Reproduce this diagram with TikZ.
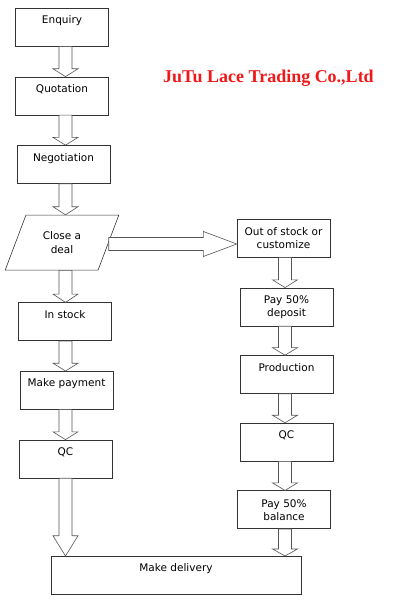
\documentclass[tikz,border=0pt]{standalone}
\usepackage{fontspec}
\setmainfont{DejaVu Sans}
\newfontfamily\titlefont{Liberation Serif}
\usetikzlibrary{positioning,calc,shapes.geometric}
\definecolor{FlowLine}{HTML}{333333}
\definecolor{FlowArrow}{HTML}{555555}
\definecolor{TitleRed}{HTML}{F01818}

% hollow block arrow between two points, head about a quarter of the length
\newcommand\blockarrow[2]{%
  \draw[fatarrow] let \p1=#1, \p2=#2,
      \n1={atan2(\y2-\y1,\x2-\x1)}, \n2={veclen(\x2-\x1,\y2-\y1)} in
    [shift={(\p1)}, rotate=\n1]
    (0,-6.5) -- ({0.74*\n2},-6.5) -- ({0.74*\n2},-12.5) -- ({\n2},0)
    -- ({0.74*\n2},12.5) -- ({0.74*\n2},6.5) -- (0,6.5) -- cycle;}

\begin{document}
\begin{tikzpicture}[x=1pt,y=-1pt,node distance=30pt]
    \tikzset{flowbox/.style={draw=FlowLine,line width=0.6pt,minimum width=93pt,minimum height=38pt,inner xsep=2pt,inner ysep=0pt,font=\fontsize{10.5}{13}\selectfont},
      topbox/.style={flowbox,text height=15.5pt,text depth=22.5pt},
      pairbox/.style={flowbox,align=center},
      dealbox/.style={draw=FlowLine,line width=0.6pt,trapezium,trapezium left angle=63,trapezium right angle=117,trapezium stretches=true,minimum width=114pt,minimum height=55pt,inner sep=0pt,align=center,font=\fontsize{10.5}{13.5}\selectfont},
      fatarrow/.style={draw=FlowArrow,line width=0.6pt,fill=white}}
    \useasboundingbox (0,0) rectangle (414,604);
    \coordinate (laxis) at (65.5,0);
    \coordinate (raxis) at (285,0);
    \coordinate (haxis) at (0,244);
    \node[font=\titlefont\bfseries\fontsize{18}{20}\selectfont,text=TitleRed,anchor=base] (title) at (268.5,83) {JuTu Lace Trading Co.,Ltd};
    % left column
    \node[topbox,anchor=north] (enquiry) at (62,8) {Enquiry};
    \node[topbox,below=of enquiry] (quotation) {Quotation};
    \node[topbox,below=of quotation,xshift=1.5pt] (negotiation) {Negotiation};
    \node[dealbox,below=31pt of negotiation,xshift=-1.5pt] (deal) {Close a\\deal};
    \node[topbox,below=32pt of deal,xshift=3pt] (instock) {In stock};
    \node[topbox,below=of instock,xshift=1.5pt] (payment) {Make payment};
    \node[topbox,below=of payment,xshift=-1pt] (qcleft) {QC};
    % right column
    \node[pairbox,anchor=north] (outstock) at (283.5,219) {Out of stock or\\customize};
    \node[pairbox,below=of outstock,xshift=3pt] (deposit) {Pay 50\%\\deposit};
    \node[topbox,below=29pt of deposit] (production) {Production};
    \node[topbox,below=29pt of production] (qcright) {QC};
    \node[pairbox,below=29pt of qcright,xshift=-2.5pt] (balance) {Pay 50\%\\balance};
    \node[topbox,minimum width=250pt,anchor=north] (delivery) at (176,556) {Make delivery};
    % arrows
    \foreach \a/\b in {enquiry/quotation,quotation/negotiation,negotiation/deal,deal/instock,instock/payment,payment/qcleft,qcleft/delivery}
      \blockarrow{(\a.south -| laxis)}{(\b.north -| laxis)};
    \foreach \a/\b in {outstock/deposit,deposit/production,production/qcright,qcright/balance,balance/delivery}
      \blockarrow{(\a.south -| raxis)}{(\b.north -| raxis)};
    \blockarrow{(deal.east |- haxis)}{(outstock.west |- haxis)};
\end{tikzpicture}
\end{document}
